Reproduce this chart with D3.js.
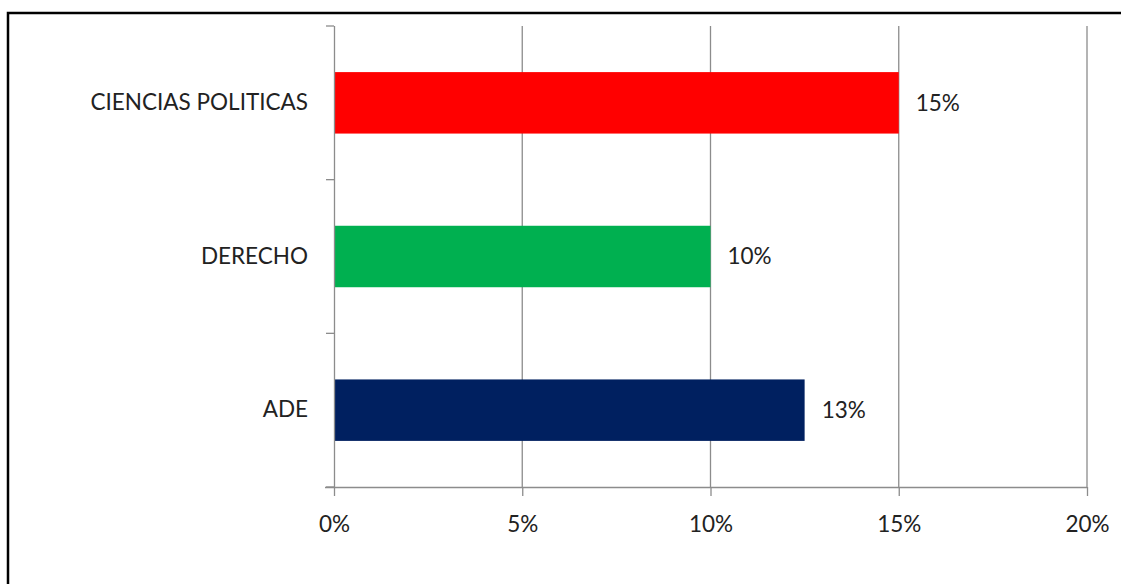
<!DOCTYPE html>
<html><head><meta charset="utf-8">
<script src="https://cdn.jsdelivr.net/npm/d3@7"></script>
<style>
html,body{margin:0;padding:0;background:#fff;}
svg{display:block;}
text{font-family:Lato,"Open Sans",sans-serif;fill:#222;}
</style></head>
<body>
<svg id="c" width="1121" height="584"></svg>
<script>
const categories = ["CIENCIAS POLITICAS", "DERECHO", "ADE"];
const values = [15, 10, 12.5];
const valueLabels = ["15%", "10%", "13%"];
const colors = ["#FF0000", "#00B050", "#002060"];
const xTicks = [0, 5, 10, 15, 20];
const xTickLabels = ["0%", "5%", "10%", "15%", "20%"];

const svg = d3.select("#c");
// outer frame
svg.append("rect").attr("x", 8).attr("y", 13).attr("width", 1140).attr("height", 600)
  .attr("fill", "none").attr("stroke", "#000").attr("stroke-width", 2.5);

const pLeft = 334, pRight = 1087, pTop = 26, pBottom = 487;
const fs = 22.5;
const x = d3.scaleLinear().domain([0, 20]).range([pLeft, pRight]);
const yBand = d3.scaleBand().domain(categories).range([pTop, pBottom]).paddingInner(0.6).paddingOuter(0.3);
const yStep = d3.scaleBand().domain(categories).range([pTop, pBottom]).padding(0);

const grid = "#8c8c8c";
// vertical gridlines
svg.append("g").selectAll("line").data(xTicks.filter(t => t > 0)).join("line")
  .attr("x1", d => x(d)).attr("x2", d => x(d)).attr("y1", pTop).attr("y2", pBottom)
  .attr("stroke", grid).attr("stroke-width", 1.3);

// bars
svg.append("g").selectAll("rect").data(categories).join("rect")
  .attr("x", x(0)).attr("y", d => yBand(d))
  .attr("width", (d, i) => x(values[i]) - x(0)).attr("height", yBand.bandwidth())
  .attr("fill", (d, i) => colors[i]);

// x axis
const xAxis = d3.axisBottom(x).tickValues(xTicks).tickFormat((d, i) => xTickLabels[i]).tickSize(9).tickPadding(20);
const gx = svg.append("g").attr("transform", `translate(0,${pBottom})`).call(xAxis);
gx.select(".domain").attr("d", `M${pLeft - 9},0.5H${pRight}`).attr("stroke", grid).attr("stroke-width", 1.3);
gx.selectAll(".tick line").attr("stroke", grid).attr("stroke-width", 1.3);
gx.selectAll(".tick text").attr("font-size", fs).attr("font-family", "Lato").attr("fill", "#222").attr("dy", "0.71em");

// y axis
const yAxis = d3.axisLeft(yBand).tickSize(0).tickPadding(26);
const gy = svg.append("g").attr("transform", `translate(${pLeft},0)`).call(yAxis);
gy.select(".domain").attr("d", `M0.5,${pTop}V${pBottom}`).attr("stroke", grid).attr("stroke-width", 1.3);
gy.selectAll(".tick text").attr("font-size", fs).attr("font-family", "Lato").attr("fill", "#222");
// category boundary ticks
svg.append("g").selectAll("line").data(categories.concat(["_end"])).join("line")
  .attr("x1", pLeft - 8).attr("x2", pLeft)
  .attr("y1", (d, i) => i < categories.length ? yStep(d) : pBottom)
  .attr("y2", (d, i) => i < categories.length ? yStep(d) : pBottom)
  .attr("stroke", grid).attr("stroke-width", 1.3);

// value labels
svg.append("g").selectAll("text").data(categories).join("text")
  .attr("x", (d, i) => x(values[i]) + 17)
  .attr("y", d => yBand(d) + yBand.bandwidth() / 2)
  .attr("dy", "0.35em").attr("font-size", fs)
  .text((d, i) => valueLabels[i]);
</script>
</body></html>
